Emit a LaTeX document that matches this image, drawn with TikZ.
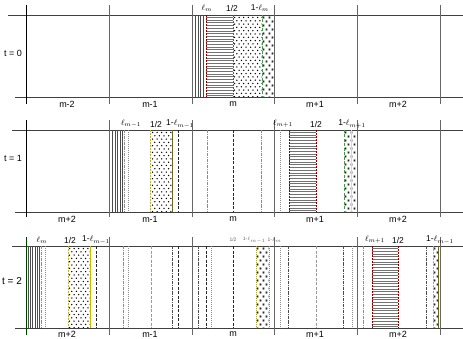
\documentclass[tikz,border=0pt]{standalone}
\usepackage{fontspec}
\setmainfont{Liberation Sans}
\newcommand\hhatch[4]{\pgfmathtruncatemacro\hhn{(#4-#3)/2.7}\foreach \i in {0,...,\hhn}{\draw[hh] (#1,{#3+2.7*\i}) -- (#2,{#3+2.7*\i});}}
\newcommand\dotfield[4]{\begin{scope}\clip (#1,#3) rectangle (#2,#4);
  \foreach \r in {0,...,24}{\pgfmathsetmacro\off{mod(\r,2)*2.3}
    \foreach \c in {0,...,7}{\fill[black] ({#1+1.5+\off+4.6*\c},{#3+2+3.3*\r}) circle (0.75pt);}}\end{scope}}
\newcommand\starfield[4]{\begin{scope}\clip (#1,#3) rectangle (#2,#4);
  \foreach \r in {0,...,20}{\pgfmathsetmacro\off{mod(\r,2)*3}
    \foreach \c in {0,...,3}{\draw[black!85,line width=0.4pt] ({#1+1.5+\off+6*\c},{#3+2+4*\r}) +(-1.2,0)--+(1.2,0) +(-0.7,-1.1)--+(0.7,1.1) +(-0.7,1.1)--+(0.7,-1.1);}}\end{scope}}
\begin{document}
\begin{tikzpicture}[x=1pt,y=-1pt,
  frame/.style={draw=black!75, line width=0.7pt},
  bnd/.style={draw=black!60, line width=0.9pt},
  vh/.style={draw=black!70, line width=0.5pt},
  hh/.style={draw=black!55, line width=0.8pt},
  dashdotg/.style={draw=black!45, line width=0.6pt, dash pattern=on 3pt off 1pt on 0.8pt off 1pt},
  dotg/.style={draw=black!45, line width=0.6pt, dash pattern=on 0.8pt off 1.2pt},
  dashk/.style={draw=black!85, line width=0.6pt, dash pattern=on 3pt off 1.5pt},
  dashl/.style={draw=black!40, line width=0.6pt, dash pattern=on 3pt off 1.5pt},
  reddash/.style={draw=red!50!black, line width=0.8pt, dash pattern=on 2pt off 1pt},
  orangedash/.style={draw=orange!60!black, line width=0.7pt, dash pattern=on 2pt off 1pt},
  yellowdash/.style={draw=yellow!70!black, line width=0.7pt, dash pattern=on 2pt off 1pt},
  greendash/.style={draw=green!40!black!70, line width=0.7pt, dash pattern=on 3pt off 1.5pt},
  greensolid/.style={draw=olive!70!black, line width=0.7pt},
  lightgreen/.style={draw=yellow!60!green!50, line width=0.8pt},
  lab/.style={font=\fontsize{9}{10}\selectfont, inner sep=0pt},
  toplab/.style={font=\fontsize{8.5}{9}\selectfont, inner sep=0pt},
  tiny/.style={font=\fontsize{5}{6}\selectfont, inner sep=0pt, text=black!60}]
\useasboundingbox (0,0) rectangle (463,339);
\fill[white] (0,0) rectangle (463,339);

% ================= Panel A (t=0) =================
\draw[frame] (8,15) -- (463,15);
\draw[frame] (15,97) -- (463,97);
\draw[frame,black] (26,5) -- (26,104);
\foreach \x in {109,192.5,274.5,357,440}{\draw[bnd] (\x,5) -- (\x,104);}
% cell m content
\foreach \x in {195.5,198,200.5,203}{\draw[vh] (\x,15) -- (\x,97);}
\hhatch{206}{233}{17.5}{96}
\draw[reddash] (206,15) -- (206,97);
\dotfield{233}{262}{15.5}{96.5}
\starfield{262}{274}{15.5}{96.5}
\draw[orangedash] (233,15) -- (233,97);
\draw[greendash] (262,15) -- (262,97);

\node[toplab] (a-l) at (207,8) {$\ell_m$};
\node[toplab] (a-h) at (232,8) {1/2};
\node[toplab] (a-r) at (260,8) {1-$\ell_m$};
\node[lab] (t0) at (13,53) {t = 0};
\node[lab] (a1) at (67,104) {m-2};
\node[lab] (a2) at (150,104) {m-1};
\node[lab] (a3) at (233,104) {m};
\node[lab] (a4) at (315,104) {m+1};
\node[lab] (a5) at (398,104) {m+2};

% ================= Panel B (t=1) =================
\draw[frame] (12,130) -- (463,130);
\draw[frame] (15,212) -- (463,212);
\draw[frame,black] (26,120) -- (26,217);
\foreach \x in {109,192.5,274.5,357,440}{\draw[bnd] (\x,120) -- (\x,217);}
% cell m-1
\foreach \x in {112,115,117.5,120,122}{\draw[vh] (\x,130) -- (\x,212);}
\draw[dashdotg] (124,130) -- (124,212);
\draw[dotg] (128.5,130) -- (128.5,212);
\dotfield{151}{172.5}{130.5}{211.5}
\draw[yellowdash] (150.5,130) -- (150.5,212);
\draw[greensolid] (172.5,130) -- (172.5,212);
\draw[dashk] (178,130) -- (178,212);
% cell m
\draw[dashdotg] (207,130) -- (207,212);
\draw[dashk] (233,130) -- (233,212);
\draw[dashdotg] (261,130) -- (261,212);
% cell m+1
\draw[dotg] (280,130) -- (280,212);
\hhatch{289}{316}{132.5}{211}
\draw[reddash] (289,130) -- (289,212);
\draw[reddash] (316,130) -- (316,212);
\starfield{344}{356}{130.5}{211.5}
\draw[greendash] (344,130) -- (344,212);
\draw[lightgreen] (351,130) -- (351,212);

\node[toplab] (b-l) at (131,124) {$\ell_{m-1}$};
\node[toplab] (b-h) at (156,124) {1/2};
\node[toplab] (b-r) at (180,124) {1-$\ell_{m-1}$};
\node[toplab] (b-l2) at (283,124) {$\ell_{m+1}$};
\node[toplab] (b-h2) at (316,124) {1/2};
\node[toplab] (b-r2) at (352,124) {1-$\ell_{m+1}$};
\node[lab] (t1) at (13,158) {t = 1};
\node[lab] (b1) at (67,219) {m+2};
\node[lab] (b2) at (150,219) {m-1};
\node[lab] (b3) at (233,219) {m};
\node[lab] (b4) at (315,219) {m+1};
\node[lab] (b5) at (398,219) {m+2};

% ================= Panel C (t=2) =================
\draw[frame] (12,246) -- (463,246);
\draw[frame] (15,328) -- (463,328);
\draw[line width=0.9pt, draw=green!25!black] (26,237) -- (26,335);
\foreach \x in {109,192.5,274.5,357,440}{\draw[bnd] (\x,237) -- (\x,335);}
% cell m+2 (left)
\foreach \x in {28.5,30.5,32.5,35,37,39.5}{\draw[vh] (\x,246) -- (\x,328);}
\draw[dashdotg] (41,246) -- (41,328);
\draw[dotg] (45,246) -- (45,328);
\dotfield{68}{90.5}{246.5}{327.5}
\draw[yellowdash] (68,246) -- (68,328);
\draw[greensolid,draw=yellow!50!olive] (90.5,246) -- (90.5,328);
\draw[dashk] (96,246) -- (96,328);
% cell m-1
\draw[dashdotg] (123,246) -- (123,328);
\draw[dotg] (128,246) -- (128,328);
\draw[dashl] (151,246) -- (151,328);
\draw[dashdotg,draw=black!70] (172,246) -- (172,328);
\draw[dashk] (178,246) -- (178,328);
% cell m
\draw[dashdotg,draw=black!70] (198,246) -- (198,328);
\draw[dashk] (206,246) -- (206,328);
\draw[dotg] (211,246) -- (211,328);
\draw[dashk] (233,246) -- (233,328);
\starfield{256}{269}{246.5}{327.5}
\draw[dotg,draw=yellow!60!black] (256,246) -- (256,328);
\draw[dotg] (269,246) -- (269,328);
% cell m+1
\draw[dotg] (280,246) -- (280,328);
\draw[dashdotg,draw=black!70] (288,246) -- (288,328);
\draw[dashl] (316,246) -- (316,328);
\draw[dashdotg,draw=black!70] (343,246) -- (343,328);
\draw[dotg] (352,246) -- (352,328);
% cell m+2 (right)
\draw[dashdotg] (363,246) -- (363,328);
\hhatch{372}{398}{248.5}{327}
\draw[reddash] (372,246) -- (372,328);
\draw[reddash] (398,246) -- (398,328);
\draw[dashdotg,draw=black!70] (426,246) -- (426,328);
\starfield{433}{439}{246.5}{327.5}
\draw[yellowdash] (433,246) -- (433,328);
\draw[greensolid] (438.5,246) -- (438.5,328);

\node[toplab] (c-l) at (42,240) {$\ell_m$};
\node[toplab] (c-h) at (70,240) {1/2};
\node[toplab] (c-r) at (96,240) {1-$\ell_{m-1}$};
\node[tiny] (c-h2) at (233,240) {1/2};
\node[tiny,anchor=east] (c-r2) at (266,240) {1-$\ell_{m-1}$};
\node[tiny,anchor=west] (c-r3) at (267.5,240) {1-$\ell_m$};
\node[toplab] (c-l3) at (375,240) {$\ell_{m+1}$};
\node[toplab] (c-h3) at (398,240) {1/2};
\node[toplab] (c-r4) at (440,240) {1-$\ell_{m-1}$};
\node[lab,font=\fontsize{10}{11}\selectfont] (t2) at (12,281) {t = 2};
\node[lab] (c1) at (67,334) {m+2};
\node[lab] (c2) at (150,334) {m-1};
\node[lab] (c3) at (233,334) {m};
\node[lab] (c4) at (315,334) {m+1};
\node[lab] (c5) at (398,334) {m+2};
\end{tikzpicture}
\end{document}
